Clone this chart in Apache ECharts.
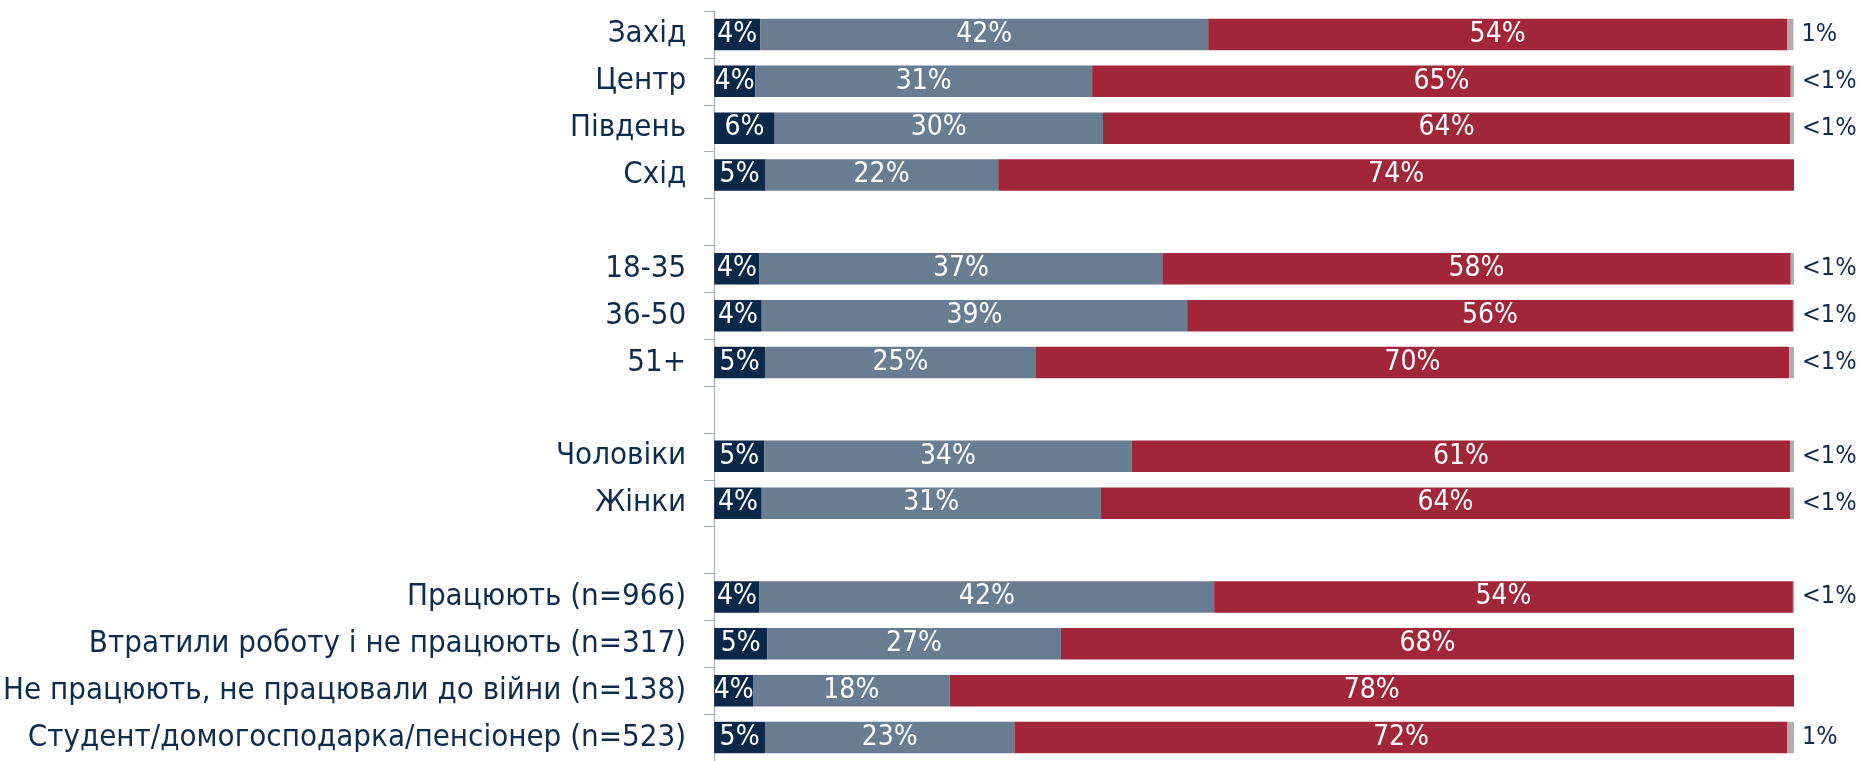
<!DOCTYPE html>
<html>
<head>
<meta charset="utf-8">
<style>
  html, body { margin: 0; padding: 0; background: #ffffff; }
  #chart { width: 1858px; height: 761px; }
</style>
<script src="https://cdn.jsdelivr.net/npm/echarts@6/dist/echarts.min.js"></script>
</head>
<body>
<div id="chart"></div>
<script>
// Row labels; blank entries separate the groups
const categories = [
  'Захід', 'Центр', 'Південь', 'Схід', '',
  '18-35', '36-50', '51+', ' ',
  'Чоловіки', 'Жінки', '  ',
  'Працюють (n=966)',
  'Втратили роботу і не працюють (n=317)',
  'Не працюють, не працювали до війни (n=138)',
  'Студент/домогосподарка/пенсіонер (n=523)'
];

// Shares per row, in percent
const shareDark  = [4.25, 3.8, 5.6, 4.7, null, 4.2, 4.4, 4.7, null, 4.65, 4.4, null, 4.2, 4.9, 3.6, 4.7];
const shareGrey  = [41.5, 31.2, 30.4, 21.6, null, 37.3, 39.4, 25.1, null, 34.0, 31.4, null, 42.1, 27.2, 18.2, 23.1];
const shareRed   = [53.6, 64.7, 63.65, 73.7, null, 58.2, 56.1, 69.75, null, 61.0, 63.85, null, 53.6, 67.9, 78.2, 71.6];
const shareLight = [0.6, 0.3, 0.35, 0, null, 0.3, 0.1, 0.45, null, 0.35, 0.35, null, 0.1, 0, 0, 0.6];

const FONT = '"DejaVu Sans Condensed", "DejaVu Sans", sans-serif';
const NAVY = '#0e2c4f';

const pct = (v) => Math.round(v) + '%';
const smallPct = (v) => (v <= 0 ? '' : (v < 0.5 ? '<1%' : Math.round(v) + '%'));

function stackSeries(name, data, color, labelCfg) {
  return {
    name: name,
    type: 'bar',
    stack: 'total',
    data: data,
    barWidth: '67%',
    itemStyle: { color: color },
    label: labelCfg,
    emphasis: { disabled: true },
    animation: false
  };
}

const insideLabel = {
  show: true,
  position: 'inside',
  color: '#ffffff',
  fontFamily: FONT,
  fontSize: 28,
  formatter: (p) => pct(p.value)
};

const chart = echarts.init(document.getElementById('chart'), null, { renderer: 'canvas' });

chart.setOption({
  backgroundColor: '#ffffff',
  animation: false,
  grid: { left: 713, top: 11, width: 1081, height: 757, containLabel: false },
  xAxis: {
    type: 'value',
    min: 0,
    max: 100,
    show: false
  },
  yAxis: {
    type: 'category',
    data: categories,
    inverse: true,
    axisLine: { show: true, lineStyle: { color: '#a3aab4', width: 1 } },
    axisTick: { show: true, length: 10, lineStyle: { color: '#a3aab4', width: 1 } },
    axisLabel: {
      color: NAVY,
      fontFamily: FONT,
      fontSize: 31,
      margin: 28
    },
    splitLine: { show: false }
  },
  series: [
    stackSeries('dark', shareDark, '#0b2848', insideLabel),
    stackSeries('grey', shareGrey, '#687d91', insideLabel),
    stackSeries('red', shareRed, '#a22639', insideLabel),
    stackSeries('light', shareLight, '#adadad', {
      show: true,
      position: 'right',
      distance: 8,
      color: NAVY,
      fontFamily: FONT,
      fontSize: 25,
      formatter: (p) => smallPct(p.value)
    })
  ]
});
</script>
</body>
</html>
